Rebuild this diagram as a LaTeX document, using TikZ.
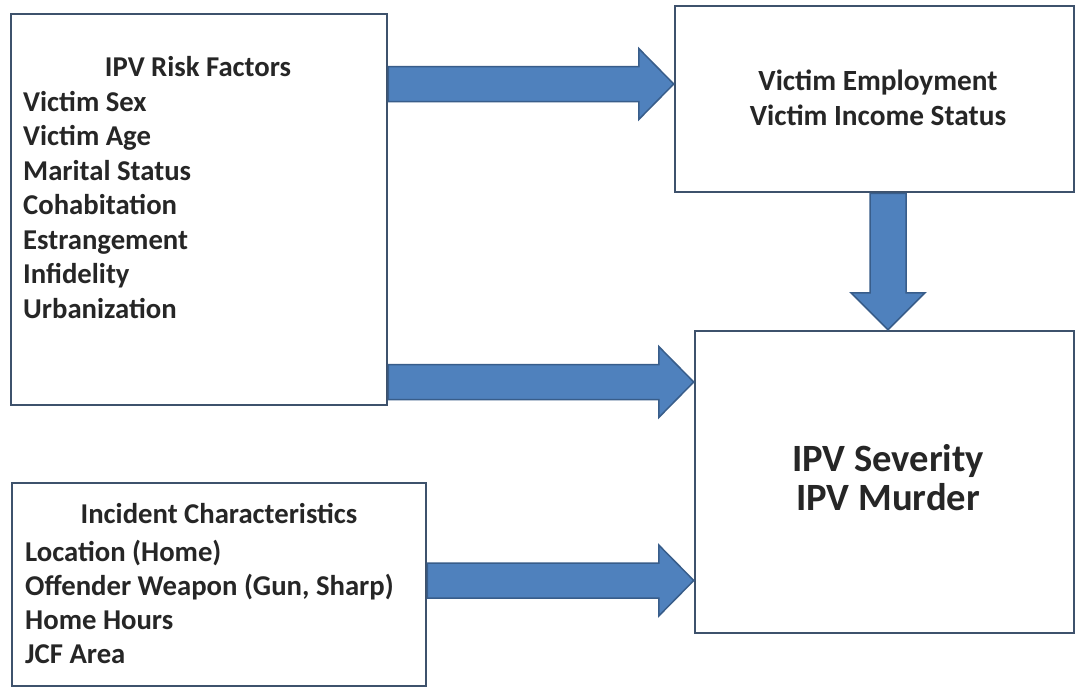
\documentclass[tikz,border=0pt]{standalone}
\usepackage{fontspec}
\setmainfont{Carlito}
\usetikzlibrary{calc}
\definecolor{boxline}{RGB}{62,82,108}
\definecolor{arrfill}{RGB}{79,129,189}
\definecolor{arrline}{RGB}{56,93,138}
\newcommand\blockH[2]{\draw[blockarrow] ($(#1)+(0,-17.5)$) -- ($(#2)+(-35,-17.5)$) -- ($(#2)+(-35,-35.5)$) -- (#2) -- ($(#2)+(-35,35.5)$) -- ($(#2)+(-35,17.5)$) -- ($(#1)+(0,17.5)$) -- cycle;}
\newcommand\blockV[2]{\draw[blockarrow] ($(#1)+(-18,0)$) -- ($(#2)+(-18,-37)$) -- ($(#2)+(-37,-37)$) -- (#2) -- ($(#2)+(37,-37)$) -- ($(#2)+(18,-37)$) -- ($(#1)+(18,0)$) -- cycle;}
\begin{document}
\begin{tikzpicture}[x=1pt,y=-1pt,
  box/.style={draw=boxline,line width=2.5pt,fill=white,inner sep=0pt},
  blockarrow/.style={fill=arrfill,draw=arrline,line width=1.5pt,line join=miter},
  txtA/.style={font=\bfseries\fontsize{28.7}{34}\selectfont,inner sep=0pt,text=black!85},
  txtB/.style={font=\bfseries\fontsize{29.3}{35}\selectfont,inner sep=0pt,text=black!85},
  txtC/.style={font=\bfseries\fontsize{38.6}{46}\selectfont,inner sep=0pt,text=black!85}]
\useasboundingbox[fill=white] (0,0) rectangle (1076,689);
% boxes
\node[box,minimum width=376pt,minimum height=391pt] (A) at (199,209.5) {};
\node[box,minimum width=399pt,minimum height=186pt] (B) at (874.5,99) {};
\node[box,minimum width=379pt,minimum height=302pt] (C) at (884.5,482) {};
\node[box,minimum width=414pt,minimum height=203pt] (D) at (219,584.5) {};
% arrow end points
\coordinate (a1s) at (A.east |- 0,84);
\coordinate (a1e) at (B.west |- 0,84);
\coordinate (a2s) at (A.east |- 0,382);
\coordinate (a2e) at (C.west |- 0,382);
\coordinate (a3s) at (D.east |- 0,580.5);
\coordinate (a3e) at (C.west |- 0,580.5);
\coordinate (a4s) at (B.south -| 888,0);
\coordinate (a4e) at (C.north -| 888,0);
\blockH{a1s}{a1e}
\blockH{a2s}{a2e}
\blockH{a3s}{a3e}
\blockV{a4s}{a4e}
% texts
\node[txtA,anchor=base] (At) at (198,76) {IPV Risk Factors};
\foreach \t [count=\i from 0] in {Victim Sex,Victim Age,Marital Status,Cohabitation,Estrangement,Infidelity,Urbanization}
  \node[txtA,anchor=base west] (a\i) at (23,{111.5+34.45*\i}) {\t};
\node[txtA,anchor=base] (Dt) at (219,523) {Incident Characteristics};
\foreach \t [count=\i from 0] in {Location (Home),{Offender Weapon (Gun, Sharp)},Home Hours,JCF Area}
  \node[txtA,anchor=base west] (d\i) at (25,{561+34*\i}) {\t};
\node[txtB,anchor=base] (B1) at (878,90) {Victim Employment};
\node[txtB,anchor=base] (B2) at (878,125) {Victim Income Status};
\node[txtC,anchor=base] (C1) at (888,471.5) {IPV Severity};
\node[txtC,anchor=base] (C2) at (888,510) {IPV Murder};
\end{tikzpicture}
\end{document}
